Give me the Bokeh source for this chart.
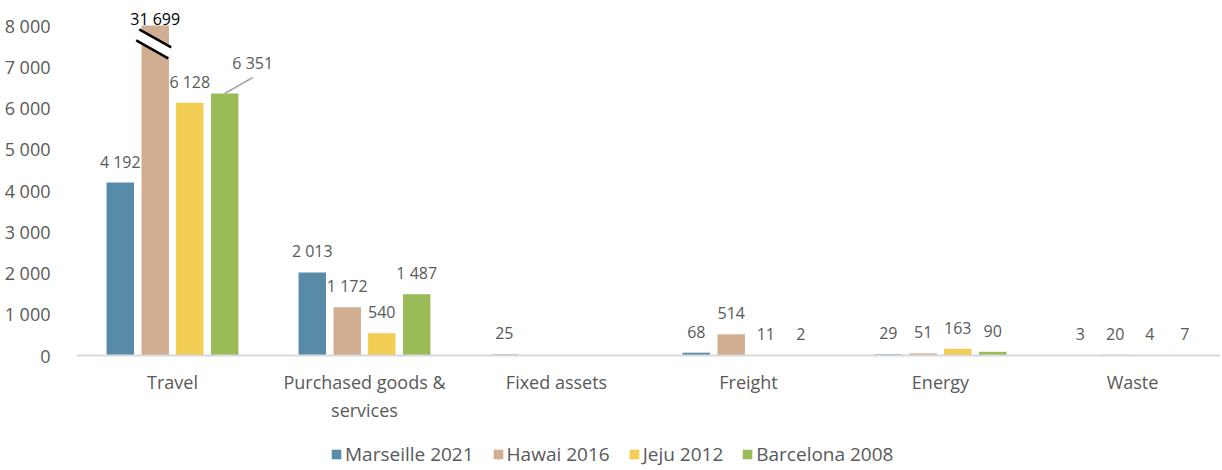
import numpy as np
from bokeh.plotting import figure
from bokeh.models import Range1d, FixedTicker, Legend, LegendItem
from bokeh.core.properties import value
from bokeh.embed import file_html
from bokeh.resources import INLINE

# ---------------- data ----------------
categories = ["Travel", "Purchased goods &\nservices", "Fixed assets", "Freight", "Energy", "Waste"]
series_names = ["Marseille 2021", "Hawai 2016", "Jeju 2012", "Barcelona 2008"]
marseille_2021 = [4192, 2013, 25, 68, 29, 3]
hawai_2016 = [31699, 1172, None, 514, 51, 20]
jeju_2012 = [6128, 540, None, 11, 163, 4]
barcelona_2008 = [6351, 1487, None, 2, 90, 7]
y_ticks = [0, 1000, 2000, 3000, 4000, 5000, 6000, 7000, 8000]
axis_cap = 8000  # axis is broken above this value

series_values = [marseille_2021, hawai_2016, jeju_2012, barcelona_2008]
colors = ["#588BA7", "#D1AE92", "#F2CE55", "#9BBB59"]

FONT = value("Open Sans")
TXT = "#595959"

def fmt(v):
    return f"{int(v):,}".replace(",", " ")

W, H = 1220, 469
LEFT = 76
PX_Y = 1000 / 41.25        # data units per pixel (y)
PX_X = 1 / 192.0           # data units per pixel (x)
Y_END = 355 * PX_Y
Y_START = -(H - 355) * PX_Y

p = figure(width=W, height=H,
           x_range=Range1d(-0.5, -0.5 + (W - LEFT) / 192.0), y_range=Range1d(Y_START, Y_END),
           output_backend="svg", toolbar_location=None,
           min_border_left=LEFT, min_border_right=0, min_border_top=0, min_border_bottom=0)

offsets = [-0.272, -0.09, 0.09, 0.272]
bar_w = 0.143
idx = np.arange(len(categories))

items = []
tops_all = []
for s, (name, vals, col, off) in enumerate(zip(series_names, series_values, colors, offsets)):
    v = np.array([np.nan if x is None else x for x in vals], dtype=float)
    tops = np.minimum(v, axis_cap)
    xs = idx + off
    r = p.vbar(x=xs, top=tops, bottom=0, width=bar_w, fill_color=col, line_color=None)
    items.append(LegendItem(label=name, renderers=[r]))
    tops_all.append((xs, tops, v))

# normal labels
for s, (xs, tops, v) in enumerate(tops_all):
    lx, ly, lt = [], [], []
    for i in range(len(categories)):
        if np.isnan(v[i]):
            continue
        if (s == 1 and i == 0) or (s == 3 and i == 0):
            continue
        lx.append(xs[i]); ly.append(tops[i]); lt.append(fmt(v[i]))
    p.text(x=lx, y=ly, text=lt, text_font=FONT, text_font_size="16px", text_color=TXT,
           text_align="center", text_baseline="middle", y_offset=-21)

# broken Hawai bar label
xs_h, tops_h, v_h = tops_all[1]
p.text(x=[xs_h[0]], y=[tops_h[0]], text=[fmt(v_h[0])], text_font=FONT, text_font_size="16px",
       text_color="#000000", text_align="center", text_baseline="middle", y_offset=-7)

# break marks on the Hawai bar
xc = xs_h[0]
hw = 16 * PX_X
dy = 9 * PX_Y
yc1, yc2 = 7690, 7420
p.patch(x=[xc - hw, xc + hw, xc + hw - 3 * PX_X, xc - hw - 3 * PX_X],
        y=[yc1 + dy, yc1 - dy, yc2 - dy, yc2 + dy], fill_color="white", line_color=None)
p.segment(x0=[xc - hw, xc - hw - 3 * PX_X], y0=[yc1 + dy, yc2 + dy],
          x1=[xc + hw, xc + hw - 3 * PX_X], y1=[yc1 - dy, yc2 - dy],
          line_color="black", line_width=2.5)

# Barcelona Travel label with leader line
xs_b, tops_b, v_b = tops_all[3]
p.segment(x0=[xs_b[0]], y0=[tops_b[0]], x1=[xs_b[0] + 28 * PX_X], y1=[tops_b[0] + 16 * PX_Y],
          line_color="#A6A6A6", line_width=1.5)
p.text(x=[xs_b[0]], y=[tops_b[0]], text=[fmt(v_b[0])], text_font=FONT, text_font_size="16px",
       text_color=TXT, text_align="center", text_baseline="middle", x_offset=28, y_offset=-31)

# axes
p.xaxis.fixed_location = 0
p.xaxis.ticker = FixedTicker(ticks=list(range(len(categories))))
p.xaxis.major_label_overrides = {i: c for i, c in enumerate(categories)}
p.xaxis.axis_line_color = "#D9D9D9"
p.xaxis.axis_line_width = 2
p.xaxis.major_tick_line_color = None
p.xaxis.minor_tick_line_color = None
p.xaxis.major_label_text_font = "Open Sans"
p.xaxis.major_label_text_font_size = "18px"
p.xaxis.major_label_text_color = TXT
p.xaxis.major_label_standoff = 8

p.yaxis.ticker = FixedTicker(ticks=y_ticks)
p.yaxis.major_label_overrides = {t: fmt(t) for t in y_ticks}
p.yaxis.axis_line_color = None
p.yaxis.major_tick_line_color = None
p.yaxis.minor_tick_line_color = None
p.yaxis.major_label_text_font = "Open Sans"
p.yaxis.major_label_text_font_size = "18px"
p.yaxis.major_label_text_color = TXT
p.yaxis.major_label_standoff = 20

p.grid.visible = False
p.outline_line_color = None

legend = Legend(items=items, orientation="horizontal", location=(254, 2))
legend.glyph_width = 12
legend.glyph_height = 12
legend.label_standoff = 3
legend.spacing = 18
legend.padding = 0
legend.margin = 0
legend.border_line_color = None
legend.background_fill_alpha = 0
legend.label_text_font = "Open Sans"
legend.label_text_font_size = "19px"
legend.label_text_color = TXT
legend.label_height = 20
p.add_layout(legend, "center")

open("out.html", "w").write(file_html(p, INLINE))
